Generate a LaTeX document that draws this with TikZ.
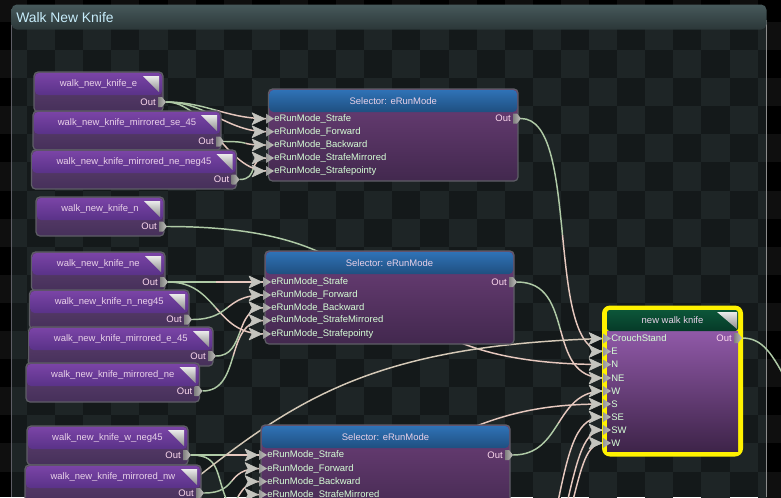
\documentclass[tikz,border=0pt]{standalone}
\usepackage{fontspec}
\setmainfont{Liberation Sans}
\usetikzlibrary{calc,backgrounds}

\definecolor{gridouter}{HTML}{0F0F0F}
\definecolor{gridlight}{HTML}{1E2526}
\definecolor{griddark}{HTML}{14191A}
\definecolor{panelbartop}{HTML}{47595B}
\definecolor{panelbarbot}{HTML}{2B3738}
\definecolor{edgegrey}{HTML}{5E5E66}
\definecolor{tipgrey}{HTML}{C4C4BE}
\definecolor{wireout}{HTML}{AFCAA6}
\definecolor{wirein}{HTML}{E6C8BE}
\definecolor{clipbodytop}{HTML}{5F4070}
\definecolor{clipbodybot}{HTML}{46305A}
\definecolor{clipbartop}{HTML}{7A44A6}
\definecolor{clipbarbot}{HTML}{593288}
\definecolor{selbodytop}{HTML}{6C3F78}
\definecolor{selbodybot}{HTML}{42284E}
\definecolor{selbartop}{HTML}{2F72B6}
\definecolor{selbarbot}{HTML}{1F4F80}
\definecolor{blendtop}{HTML}{9059A8}
\definecolor{blendbot}{HTML}{3E2449}
\definecolor{blendbartop}{HTML}{0C5639}
\definecolor{blendbarbot}{HTML}{063A28}

\tikzset{
	clipbody/.style={draw=edgegrey, line width=0.9pt, rounded corners=3pt, inner sep=0pt},
	barshade/.style={rounded corners=3pt, inner sep=0pt, text=white!82!violet, font=\fontsize{7.1pt}{8pt}\selectfont},
	cornermark/.style={top color=white!92!black, bottom color=black!45},
	wirehead/.style={fill=tipgrey, draw=tipgrey, line width=0.4pt, line join=round},
	portin/.style={left color=black!40, right color=tipgrey},
	portout/.style={left color=black!50, right color=tipgrey},
	inlabel/.style={anchor=west, inner sep=0pt, text=white!84!green, font=\fontsize{7.1pt}{8pt}\selectfont},
	outlabel/.style={anchor=east, inner sep=0pt, text=white!85!magenta, font=\fontsize{7.1pt}{8pt}\selectfont},
	wiregreen/.style={draw=wireout, line width=1.1pt},
	wirepink/.style={draw=wirein, line width=1.1pt},
}

% in port: name, x, y, text
\newcommand{\inport}[4]{
	\draw[wirehead] (#2-15,#3-6) -- (#2-2,#3) -- (#2-15,#3+6) -- (#2-12,#3) -- cycle;
	\path[portin] (#2-1,#3-5) -- (#2+7,#3) -- (#2-1,#3+5) -- cycle;
	\coordinate (#1) at (#2,#3);
	\node[inlabel] (#1-text) at (#2+7,#3) {#4};
}
% out port: name, x, y
\newcommand{\outport}[3]{
	\path[portout] (#2-4,#3-5) -- (#2,#3-5) -- (#2+4,#3) -- (#2,#3+5) -- (#2-4,#3+5) -- cycle;
	\coordinate (#1) at (#2+4,#3);
	\node[outlabel] (#1-text) at (#2-6,#3) {Out};
}
% clip: name, left, top, right, bottom, title, out y
\newcommand{\clipnode}[7]{
	\node[clipbody, top color=clipbodytop, bottom color=clipbodybot, minimum width={(#4-#2)*0.75pt}, minimum height={(#5-#3)*0.75pt}] (#1) at ({(#2+#4)/2},{(#3+#5)/2}) {};
	\node[barshade, top color=clipbartop, bottom color=clipbarbot, minimum width={(#4-#2-2)*0.75pt}, minimum height={22*0.75pt}] (#1-bar) at ({(#2+#4)/2},#3+12) {#6};
	\path[cornermark] (#4-20,#3+4) -- (#4-4,#3+4) -- (#4-4,#3+20) -- cycle;
	\outport{#1-out}{#4-1}{#7}
}
% selector: name, left, top, right, bottom, out y
\newcommand{\selectornode}[6]{
	\node[clipbody, top color=selbodytop, bottom color=selbodybot, minimum width={(#4-#2)*0.75pt}, minimum height={(#5-#3)*0.75pt}] (#1) at ({(#2+#4)/2},{(#3+#5)/2}) {};
	\node[barshade, top color=selbartop, bottom color=selbarbot, minimum width={(#4-#2-2)*0.75pt}, minimum height={22*0.75pt}] (#1-bar) at ({(#2+#4)/2},#3+12) {Selector: eRunMode};
	\outport{#1-out}{#4-1}{#6}
}
% wire: bend, from, to
\newcommand{\wire}[3]{
	\draw[wiregreen] (#2) .. controls ($(#2)+(#1/2,0)$) and ($(#2)!0.25!(#3)+(#1/4,0)$) .. ($(#2)!0.5!(#3)$);
	\draw[wirepink] ($(#2)!0.5!(#3)$) .. controls ($(#2)!0.75!(#3)-(#1/4,0)$) and ($(#3)-(#1/2,0)$) .. (#3);
}

\begin{document}
\begin{tikzpicture}[x=0.75pt,y=-0.75pt]
	\useasboundingbox (0,0) rectangle (781,497);

	% checker grid
	\begin{scope}[on background layer]
		\fill[black] (0,0) rectangle (781,497);
		\foreach \i in {0,...,28} {
			\foreach \j in {0,...,18} {
				\pgfmathtruncatemacro{\k}{\i+\j}
				\ifodd\k\else
				\fill[gridouter] (-1.1+28.1*\i,-6.2+28.1*\j) rectangle ++(28.1,28.1);
				\fi
			}
		}
		\begin{scope}
			\clip (11,20) rectangle (767,497);
			\fill[griddark] (11,20) rectangle (767,497);
			\foreach \i in {0,...,28} {
				\foreach \j in {0,...,18} {
					\pgfmathtruncatemacro{\k}{\i+\j}
					\ifodd\k\else
					\fill[gridlight] (-1.1+28.1*\i,-6.2+28.1*\j) rectangle ++(28.1,28.1);
					\fi
				}
			}
		\end{scope}
		\draw[edgegrey, line width=0.8pt] (11.5,20) -- (11.5,497);
		\draw[black!45, line width=0.8pt] (766.5,20) -- (766.5,497);
	\end{scope}

	% panel title
	\node[rounded corners=4pt, inner sep=0pt, top color=panelbartop, bottom color=panelbarbot, minimum width={755*0.75pt}, minimum height={25*0.75pt}] (panelbar) at (389,17) {};
	\node[anchor=west, inner sep=0pt, text=white!78!cyan, font=\fontsize{10.4pt}{12pt}\selectfont] (paneltitle) at (16,17.5) {Walk New Knife};

	% first group
	\clipnode{knifee}{34}{72}{163}{112}{walk\_new\_knife\_e}{102}
	\clipnode{knifemse}{33}{111}{221}{150}{walk\_new\_knife\_mirrored\_se\_45}{141.5}
	\clipnode{knifemne}{31.5}{150}{236.5}{189}{walk\_new\_knife\_mirrored\_ne\_neg45}{179.5}
	\clipnode{knifen}{36}{197}{164}{236}{walk\_new\_knife\_n}{226.5}

	% second group
	\clipnode{knifene}{31.5}{252}{165}{291}{walk\_new\_knife\_ne}{282}
	\clipnode{knifenneg}{29.5}{290}{189}{329}{walk\_new\_knife\_n\_neg45}{319.5}
	\clipnode{knifeme}{28.5}{327}{213}{366}{walk\_new\_knife\_mirrored\_e\_45}{356}
	\clipnode{knifemn}{26}{363}{199.5}{402}{walk\_new\_knife\_mirrored\_ne}{391}

	% third group
	\clipnode{knifewneg}{27}{426}{188}{465}{walk\_new\_knife\_w\_neg45}{455}
	\clipnode{knifemnw}{25}{465}{201}{505}{walk\_new\_knife\_mirrored\_nw}{493}

	% selectors
	\selectornode{selone}{268.5}{89}{518}{181}{118.5}
	\inport{selone-a}{267}{118.7}{eRunMode\_Strafe}
	\inport{selone-b}{267}{131.7}{eRunMode\_Forward}
	\inport{selone-c}{267}{145}{eRunMode\_Backward}
	\inport{selone-d}{267}{158}{eRunMode\_StrafeMirrored}
	\inport{selone-e}{267}{171}{eRunMode\_Strafepointy}

	\selectornode{seltwo}{265}{251}{514}{344}{282}
	\inport{seltwo-a}{264}{282}{eRunMode\_Strafe}
	\inport{seltwo-b}{264}{295}{eRunMode\_Forward}
	\inport{seltwo-c}{264}{307.7}{eRunMode\_Backward}
	\inport{seltwo-d}{264}{320.5}{eRunMode\_StrafeMirrored}
	\inport{seltwo-e}{264}{334}{eRunMode\_Strafepointy}

	\selectornode{selthree}{261}{425}{510}{518}{455}
	\inport{selthree-a}{260}{455}{eRunMode\_Strafe}
	\inport{selthree-b}{260}{468.5}{eRunMode\_Forward}
	\inport{selthree-c}{260}{481.5}{eRunMode\_Backward}
	\inport{selthree-d}{260}{494.5}{eRunMode\_StrafeMirrored}

	% blend node
	\node[fill=yellow, rounded corners=6pt, inner sep=0pt, minimum width={141*0.75pt}, minimum height={151*0.75pt}] (blendframe) at (672.5,381) {};
	\node[inner sep=0pt, top color=blendtop, bottom color=blendbot, minimum width={131*0.75pt}, minimum height={120*0.75pt}] (blend) at (672.5,391) {};
	\node[barshade, rounded corners=2pt, top color=blendbartop, bottom color=blendbarbot, minimum width={131*0.75pt}, minimum height={21*0.75pt}] (blend-bar) at (672.5,320.5) {new walk knife};
	\path[cornermark] (717,312) -- (737,312) -- (737,329) -- cycle;
	\outport{blend-out}{738}{338}
	\inport{blend-crouch}{604}{338.5}{CrouchStand}
	\inport{blend-e}{604}{351.5}{E}
	\inport{blend-n}{604}{364.5}{N}
	\inport{blend-ne}{604}{378}{NE}
	\inport{blend-w}{604}{391}{W}
	\inport{blend-s}{604}{404}{S}
	\inport{blend-se}{604}{417}{SE}
	\inport{blend-sw}{604}{430}{SW}
	\inport{blend-wb}{604}{443}{W}

	% free wire ends
	\coordinate (crouchfree) at (195,479);
	\coordinate (sfree) at (462,432);
	\coordinate (sefree) at (556,512);
	\coordinate (swfree) at (565,512);
	\coordinate (wbfree) at (570,512);
	\coordinate (exitfree) at (790,388);
	\coordinate (downfree) at (233,512);
	\coordinate (thirdfree) at (216,512);
	\coordinate (fourthfree) at (226,508);

	% wires
	\begin{scope}[on background layer]
		\wire{40}{knifee-out}{selone-a}
		\wire{40}{knifee-out}{selone-b}
		\wire{40}{knifee-out}{selone-e}
		\wire{30}{knifemse-out}{selone-c}
		\wire{20}{knifemne-out}{selone-d}

		\wire{20}{knifene-out}{seltwo-a}
		\wire{50}{knifene-out}{seltwo-e}
		\wire{40}{knifenneg-out}{seltwo-b}
		\wire{30}{knifeme-out}{seltwo-c}
		\wire{40}{knifemn-out}{seltwo-d}

		\wire{20}{knifewneg-out}{selthree-a}
		\wire{35}{knifemnw-out}{selthree-b}
		\wire{25}{thirdfree}{selthree-c}
		\wire{20}{fourthfree}{selthree-d}
		\draw[wiregreen] (knifewneg-out) .. controls (225,455) and (213,480) .. (downfree);

		\wire{60}{selone-out}{blend-e}
		\wire{60}{seltwo-out}{blend-ne}
		\wire{50}{selthree-out}{blend-w}
		\wire{265}{knifen-out}{blend-n}

		\draw[wirepink, draw=wirein!70!wireout] (crouchfree) .. controls (300,396) and (380,345) .. (blend-crouch);
		\draw[wirepink] (sfree) .. controls (510,411) and (550,404) .. (blend-s);
		\draw[wirepink] (sefree) .. controls (570,440) and (578,417) .. (blend-se);
		\draw[wirepink] (swfree) .. controls (578,455) and (584,430) .. (blend-sw);
		\draw[wirepink] (wbfree) .. controls (582,465) and (586,443) .. (blend-wb);
		\draw[wiregreen] (blend-out) .. controls (762,338) and (772,352) .. (exitfree);
	\end{scope}
\end{tikzpicture}
\end{document}
